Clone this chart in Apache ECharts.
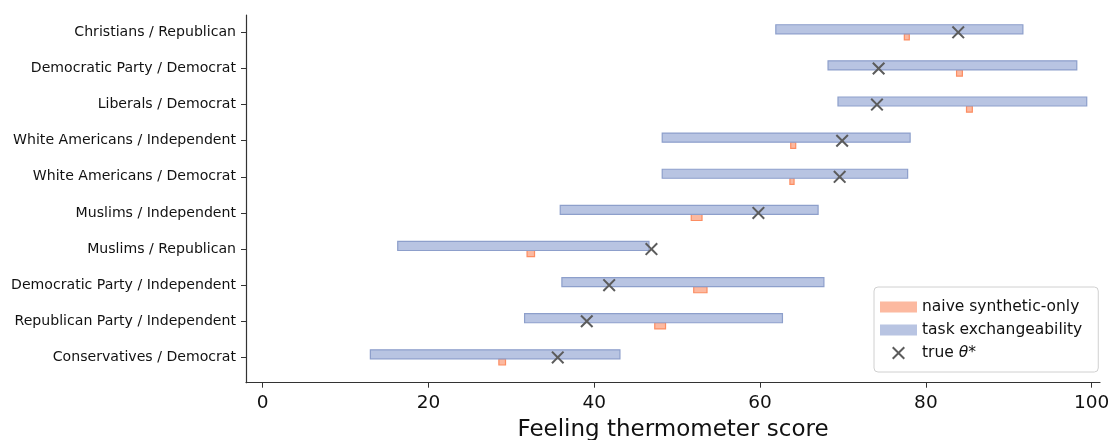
<!DOCTYPE html>
<html>
<head>
<meta charset="utf-8">
<script src="https://cdn.jsdelivr.net/npm/echarts@6/dist/echarts.min.js"></script>
<style>
html,body{margin:0;padding:0;background:#fff;}
#chart{width:1112px;height:440px;}
</style>
</head>
<body>
<div id="chart"></div>
<script>
const categories = ["Christians / Republican", "Democratic Party / Democrat", "Liberals / Democrat", "White Americans / Independent", "White Americans / Democrat", "Muslims / Independent", "Muslims / Republican", "Democratic Party / Independent", "Republican Party / Independent", "Conservatives / Democrat"];
const exchLo = [61.9, 68.2, 69.4, 48.2, 48.2, 35.9, 16.3, 36.1, 31.6, 13.0];
const exchHi = [91.7, 98.2, 99.4, 78.1, 77.8, 67.0, 46.6, 67.7, 62.7, 43.1];
const naiveLo = [77.4, 83.7, 84.9, 63.7, 63.6, 51.7, 31.9, 52.0, 47.3, 28.5];
const naiveHi = [78.0, 84.4, 85.6, 64.3, 64.1, 53.0, 32.8, 53.6, 48.6, 29.3];
const theta = [83.9, 74.3, 74.1, 69.9, 69.6, 59.8, 46.9, 41.8, 39.1, 35.6];
const xTicks = [0, 20, 40, 60, 80, 100];

const FONT = "DejaVu Sans";
const xPath = 'path://M0,1.1 L1.1,0 L5,3.9 L8.9,0 L10,1.1 L6.1,5 L10,8.9 L8.9,10 L5,6.1 L1.1,10 L0,8.9 L3.9,5 Z';
const rectIcon = 'path://M0,0 L0,0 M0,1 L37,1 L37,12 L0,12 Z M0,13 L0,13';
const rowIdx = categories.map((c, i) => i);

function bandRenderer(off1, off2, fill, stroke) {
  return function (params, api) {
    const y = api.value(0);
    const p1 = api.coord([api.value(1), y + off1]);
    const p2 = api.coord([api.value(2), y + off2]);
    const x0 = Math.min(p1[0], p2[0]);
    const y0 = Math.min(p1[1], p2[1]);
    return {
      type: 'rect',
      shape: { x: x0, y: y0, width: Math.abs(p2[0] - p1[0]), height: Math.abs(p2[1] - p1[1]) },
      style: { fill: fill, stroke: stroke, lineWidth: 1.2 }
    };
  };
}

const chart = echarts.init(document.getElementById('chart'), null, { renderer: 'canvas' });
chart.setOption({
  animation: false,
  textStyle: { fontFamily: FONT },
  grid: { left: 246, right: 12, top: 15, bottom: 57.3, containLabel: false, outerBoundsMode: 'none' },
  xAxis: {
    type: 'value', min: -2, max: 101, position: 'bottom',
    name: 'Feeling thermometer score', nameLocation: 'middle', nameGap: 36,
    nameTextStyle: { fontSize: 23, color: '#111', fontFamily: FONT },
    axisLine: { show: true, onZero: false, lineStyle: { color: '#333', width: 1.2 } },
    axisTick: { show: true, inside: false, length: 5, lineStyle: { color: '#333' }, customValues: xTicks },
    axisLabel: { fontSize: 18.5, color: '#111', margin: 11, customValues: xTicks, fontFamily: FONT },
    splitLine: { show: false }
  },
  yAxis: {
    type: 'value', min: -0.48, max: 9.7, inverse: true, position: 'left',
    axisLine: { show: true, onZero: false, lineStyle: { color: '#333', width: 1.2 } },
    axisTick: { show: true, inside: false, length: 5, lineStyle: { color: '#333' }, customValues: rowIdx },
    axisLabel: { fontSize: 14.1, color: '#111', margin: 10, customValues: rowIdx, fontFamily: FONT,
      formatter: v => categories[Math.round(v)] },
    splitLine: { show: false }
  },
  legend: {
    orient: 'vertical', left: 874, top: 287,
    padding: [11, 16, 10, 6],
    backgroundColor: '#fff', borderColor: '#d0d0d0', borderWidth: 1, borderRadius: 4,
    itemWidth: 37, itemHeight: 13, itemGap: 5,
    textStyle: { fontSize: 15.5, color: '#111', fontFamily: FONT, lineHeight: 18,
      rich: { i: { fontStyle: 'italic', fontSize: 15.5, fontFamily: FONT, lineHeight: 18 } } },
    formatter: name => name === 'true θ*' ? 'true {i|θ}*' : name,
    data: [
      { name: 'naive synthetic-only', icon: rectIcon, itemStyle: { color: '#fcb9a0', borderWidth: 0 } },
      { name: 'task exchangeability', icon: rectIcon, itemStyle: { color: '#b8c4e2', borderWidth: 0 } },
      { name: 'true θ*', icon: xPath, itemStyle: { color: '#5c5c5c', borderWidth: 0 } }
    ]
  },
  series: [
    {
      name: 'naive synthetic-only', type: 'custom',
      itemStyle: { color: '#fcb9a0' },
      encode: { x: [1, 2], y: 0 },
      renderItem: bandRenderer(0.04, 0.21, '#fcb9a0', '#fc8d62'),
      data: rowIdx.map(i => [i, naiveLo[i], naiveHi[i]]),
      z: 2
    },
    {
      name: 'task exchangeability', type: 'custom',
      itemStyle: { color: '#b8c4e2' },
      encode: { x: [1, 2], y: 0 },
      renderItem: bandRenderer(-0.21, 0.04, '#b8c4e2', '#8d9fcb'),
      data: rowIdx.map(i => [i, exchLo[i], exchHi[i]]),
      z: 3
    },
    {
      name: 'true θ*', type: 'scatter',
      symbol: xPath, symbolSize: 13, symbolKeepAspect: true,
      itemStyle: { color: '#5c5c5c', opacity: 1 },
      data: rowIdx.map(i => [theta[i], i]),
      z: 5
    }
  ]
});
</script>
</body>
</html>
